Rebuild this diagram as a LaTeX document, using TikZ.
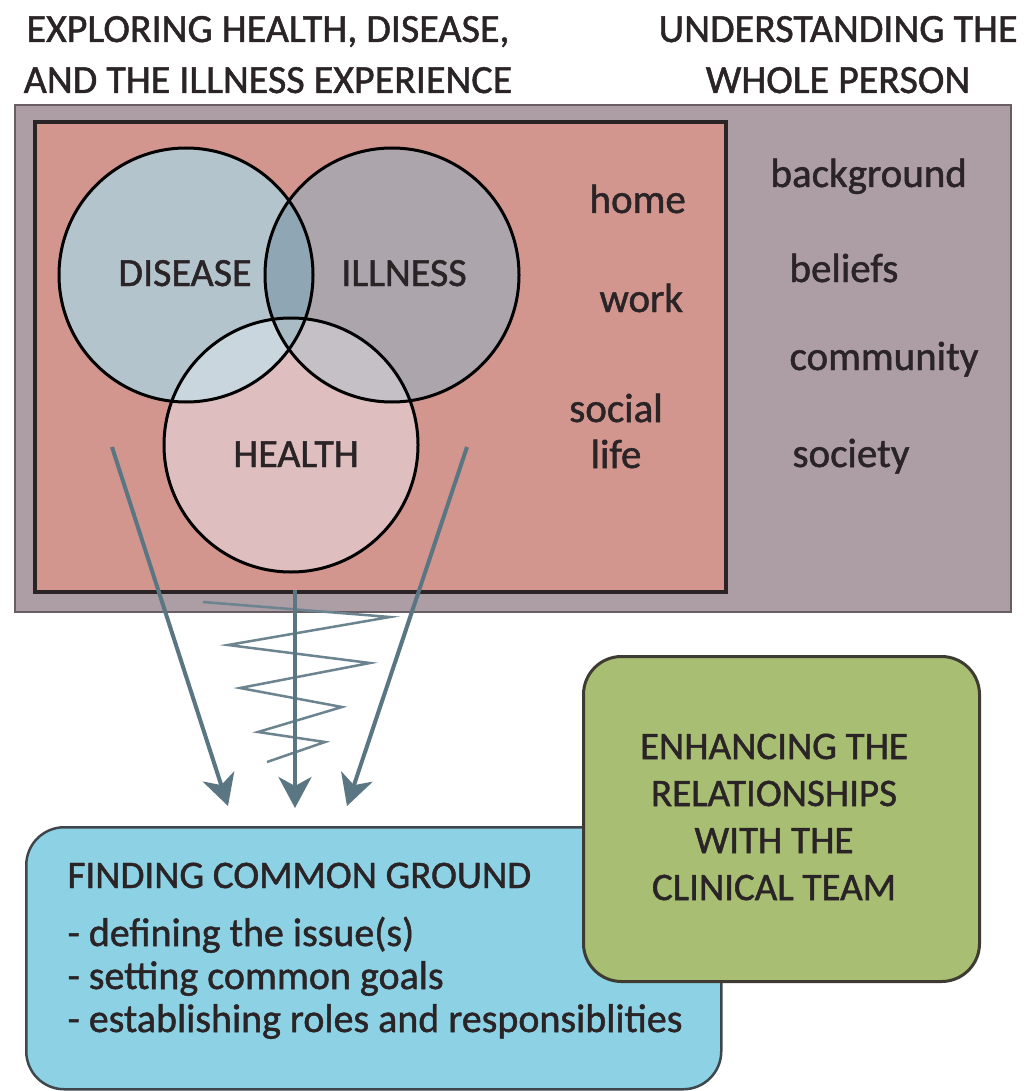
\documentclass[tikz,border=0pt]{standalone}
\usepackage{fontspec}
\setmainfont{Carlito}[FakeBold=1.2]
\usetikzlibrary{arrows.meta}

\definecolor{persongray}{HTML}{AD9DA5}
\definecolor{lifepink}{HTML}{D3968F}
\definecolor{diseasefill}{HTML}{B4C4CC}
\definecolor{illnessfill}{HTML}{ACA6AC}
\definecolor{healthfill}{HTML}{DEBEBE}
\definecolor{difill}{HTML}{8FA7B4}
\definecolor{dhfill}{HTML}{C9D6DD}
\definecolor{ihfill}{HTML}{C4C0C6}
\definecolor{dihfill}{HTML}{A9BCC6}
\definecolor{groundblue}{HTML}{8DD2E4}
\definecolor{teamgreen}{HTML}{A8BE72}
\definecolor{flowblue}{HTML}{5A7682}
\definecolor{ink}{HTML}{2A2427}

\tikzset{
  venn/.style={circle, draw=black, line width=3pt, minimum size=254pt, inner sep=0pt},
  caps/.style={text=ink, anchor=base, font=\fontsize{40}{47}\selectfont},
  word/.style={text=ink, anchor=base west, font=\fontsize{41}{46}\selectfont},
  item/.style={text=ink, anchor=base west, font=\fontsize{40}{43}\selectfont},
  flow/.style={draw=flowblue, line width=4pt, -{Stealth[length=31pt,width=33pt,inset=9pt]}},
  box/.style={rounded corners=38pt, anchor=north west, inner sep=0pt},
}

\begin{document}
\begin{tikzpicture}[x=1pt,y=-1pt]
\useasboundingbox (0,0) rectangle (1023,1091);
\fill[white] (0,0) rectangle (1023,1091);

% headings
\node[caps] (explore) at (268,42) {EXPLORING HEALTH, DISEASE,};
\node[caps] (explore2) at (268,93) {AND THE ILLNESS EXPERIENCE};
\node[caps] (whole) at (838,42) {UNDERSTANDING THE};
\node[caps] (whole2) at (838,93) {WHOLE PERSON};

% context frames
\draw[fill=persongray, draw=persongray!60!black, line width=2pt] (15,105) rectangle (1011,612);
\draw[fill=lifepink, draw=ink, line width=4pt] (35,122) rectangle (726,592);

% the three circles
\coordinate (cD) at (186,275);
\coordinate (cI) at (392,275);
\coordinate (cH) at (291,445);
\fill[diseasefill] (cD) circle (127pt);
\fill[illnessfill] (cI) circle (127pt);
\fill[healthfill] (cH) circle (127pt);
\begin{scope}
  \clip (cD) circle (127pt);
  \fill[difill] (cI) circle (127pt);
  \fill[dhfill] (cH) circle (127pt);
  \clip (cI) circle (127pt);
  \fill[dihfill] (cH) circle (127pt);
\end{scope}
\begin{scope}
  \clip (cI) circle (127pt);
  \clip (cH) circle (127pt);
  \fill[ihfill] (cD) circle (500pt);
  \clip (cD) circle (127pt);
  \fill[dihfill] (cH) circle (127pt);
\end{scope}
\node[venn] (disease) at (cD) {};
\node[venn] (illness) at (cI) {};
\node[venn] (health) at (cH) {};
\node[caps] (diseaseLbl) at (185,286) {DISEASE};
\node[caps] (illnessLbl) at (404,286) {ILLNESS};
\node[caps] (healthLbl) at (296,467) {HEALTH};

% surroundings
\node[word] (home) at (586,213) {home};
\node[word] (work) at (596,312) {work};
\node[word, anchor=north, align=center] (social) at (616,390) {social\\life};
\node[word] (background) at (767,187) {background};
\node[word] (beliefs) at (786,282) {beliefs};
\node[word] (community) at (786,370) {community};
\node[word] (society) at (789,467) {society};

% arrows down to common ground
\coordinate (fromL) at (112,447);
\coordinate (fromM) at (295,590);
\coordinate (fromR) at (467,447);
\coordinate (toL) at (228,806);
\coordinate (toM) at (295,808);
\coordinate (toR) at (347,806);
\draw[flowblue!90!white, line width=2.5pt, line join=miter]
  (203,602) -- (390,617) -- (228,645) -- (370,663) -- (240,688)
  -- (342,707) -- (258,732) -- (325,742) -- (267,762);
\draw[flow] (fromL) -- (toL);
\draw[flow] (fromM) -- (toM);
\draw[flow] (fromR) -- (toR);

% common ground box
\node[box, draw=ink!80!groundblue, fill=groundblue, line width=2.5pt,
  minimum width=695pt, minimum height=262pt] (ground) at (25,826) {};
\node[item, font=\fontsize{39}{42}\selectfont] (groundHead) at (64,888) {FINDING COMMON GROUND};
\node[item] (issue) at (64,946) {- defining the issue(s)};
\node[item] (goals) at (64,989) {- setting common goals};
\node[item] (roles) at (64,1032) {- establishing roles and responsiblities};

% clinical team box
\node[box, draw=ink!85!teamgreen, fill=teamgreen, line width=3pt,
  minimum width=396pt, minimum height=325pt] (team) at (582,655) {};
\node[text=ink, align=center, font=\fontsize{39}{47}\selectfont] (teamLbl) at (774,817)
  {ENHANCING THE\\RELATIONSHIPS\\WITH THE\\CLINICAL TEAM};
\end{tikzpicture}
\end{document}
